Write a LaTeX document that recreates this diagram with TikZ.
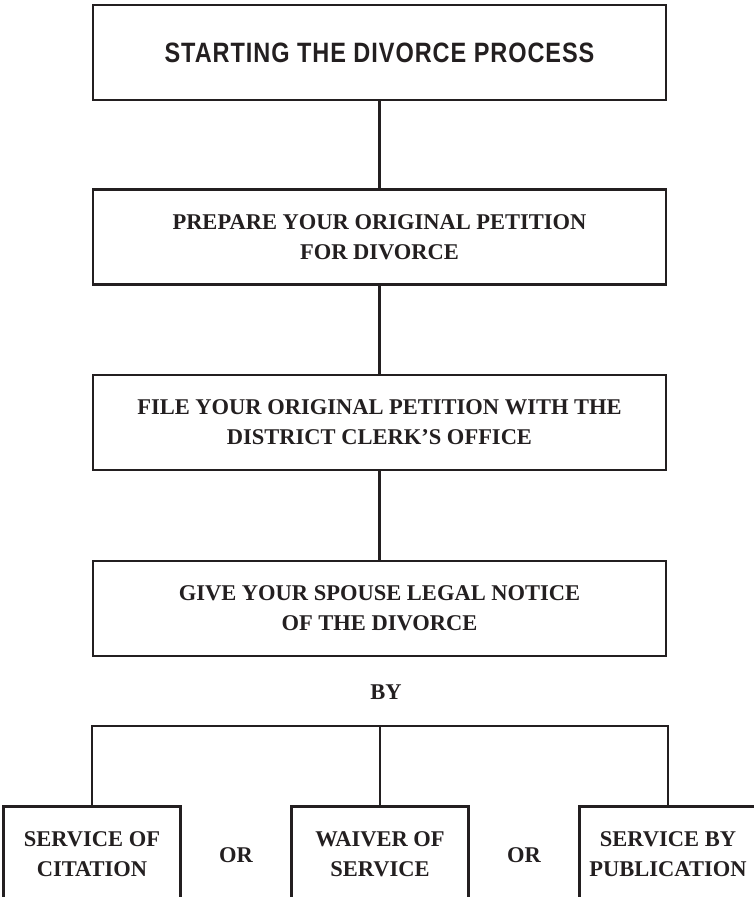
\documentclass[tikz,border=0pt]{standalone}
\usepackage{fontspec}
\setmainfont{Liberation Serif}
\newfontfamily\mytitlefont[LetterSpace=4]{Liberation Sans}
\definecolor{ink}{HTML}{231F20}
\newcommand\mybody{\fontsize{22.5}{30}\selectfont\bfseries}
\tikzset{
  boxbase/.style={line width=2.6pt, inner sep=0pt, text=ink, font=\mybody, align=center},
  stepbox/.style={boxbase, draw=ink, minimum width=573pt, minimum height=95pt},
  openbox/.style={boxbase, minimum width=174pt, minimum height=92pt},
  plainlabel/.style={inner sep=0pt, text=ink, font=\mybody},
  conn/.style={draw=ink, line width=2.2pt},
  edge/.style={draw=ink, line width=2.6pt}
}
\begin{document}
\begin{tikzpicture}[x=1pt,y=-1pt]
\useasboundingbox (0,0) rectangle (753,897);
\node[stepbox] (title) at (379.5,52.5)
  {\mytitlefont\bfseries\fontsize{28}{32}\selectfont\scalebox{0.84}[1]{STARTING THE DIVORCE PROCESS}};
\node[stepbox] (prep) at (379.5,237) {PREPARE YOUR ORIGINAL PETITION\\FOR DIVORCE};
\node[stepbox] (file) at (379.5,422.5) {FILE YOUR ORIGINAL PETITION WITH THE\\DISTRICT CLERK’S OFFICE};
\node[stepbox] (give) at (379.5,608.5) {GIVE YOUR SPOUSE LEGAL NOTICE\\OF THE DIVORCE};
\node[plainlabel] (by) at (386,692) {BY};
\coordinate (bar) at (380,726);
\node[openbox] (cit) at (92,854) {SERVICE OF\\CITATION};
\node[openbox] (wai) at (380,854) {WAIVER OF\\SERVICE};
\node[openbox] (pub) at (668,854) {SERVICE BY\\PUBLICATION};
\node[plainlabel] (or1) at (236,855) {OR};
\node[plainlabel] (or2) at (524,855) {OR};
\draw[conn] (title) -- (prep);
\draw[conn] (prep) -- (file);
\draw[conn] (file) -- (give);
\draw[conn] (cit.north) -- (cit.north |- bar) -- (pub.north |- bar) -- (pub.north);
\draw[conn] (wai.north) -- (bar);
\foreach \b in {cit,wai,pub}
  \draw[edge] (\b.south west) |- (\b.north east) -- (\b.south east);
\end{tikzpicture}
\end{document}
